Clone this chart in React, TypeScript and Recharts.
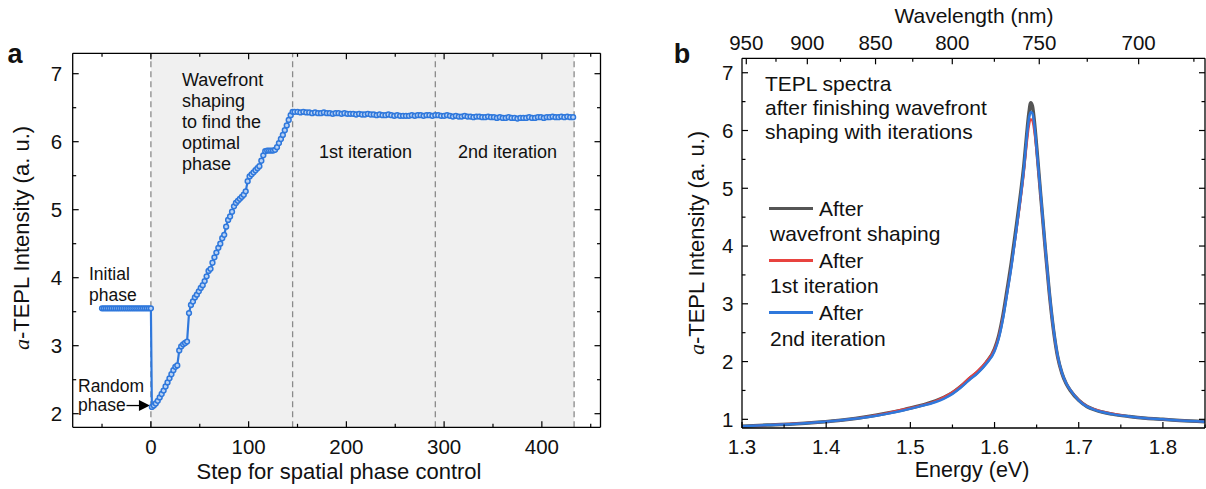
import React from "react";
import { LineChart, Line, XAxis, YAxis, ReferenceArea, ReferenceLine, ReferenceDot } from "recharts";

const FONT = '"Liberation Sans", Arial, sans-serif';

// ---- panel a: intensity vs optimisation step ----
const initialIntensity = [
  3.55, 3.55, 3.55, 3.55, 3.55, 3.55, 3.55, 3.55, 3.55, 3.55, 3.55, 3.55, 3.55,
  3.55, 3.55, 3.55, 3.55, 3.55, 3.55, 3.55, 3.55, 3.55, 3.55, 3.55, 3.55, 3.55,
];
const shapingIntensity = [
  2.10, 2.12, 2.15, 2.19, 2.24, 2.29, 2.34, 2.40, 2.46, 2.52,
  2.58, 2.64, 2.69, 2.71, 2.93, 2.99, 3.02, 3.04, 3.06, 3.48,
  3.60, 3.65, 3.71, 3.75, 3.80, 3.85, 3.89, 3.95, 4.02, 4.10,
  4.13, 4.22, 4.30, 4.37, 4.44, 4.50, 4.58, 4.63, 4.75, 4.85,
  4.90, 4.97, 5.05, 5.10, 5.13, 5.16, 5.19, 5.22, 5.27, 5.42,
  5.49, 5.52, 5.55, 5.58, 5.61, 5.64, 5.72, 5.80, 5.86, 5.87,
  5.87, 5.87, 5.87, 5.88, 5.92, 5.98, 6.04, 6.10, 6.17, 6.24,
  6.32, 6.39, 6.44,
];
const iterationIntensity = [
  6.44, 6.44, 6.43, 6.44, 6.43, 6.43, 6.42, 6.43, 6.42, 6.42, 6.43, 6.42, 6.42, 6.41, 6.42, 6.42, 6.41, 6.42, 6.41,
  6.41, 6.41, 6.40, 6.41, 6.40, 6.40, 6.41, 6.40, 6.40, 6.39, 6.40, 6.39, 6.39, 6.40, 6.39, 6.38, 6.39, 6.38, 6.38, 6.38,
  6.38, 6.39, 6.38, 6.39, 6.39, 6.38, 6.39, 6.39, 6.38, 6.39,
  6.39, 6.38, 6.38, 6.39, 6.38, 6.37, 6.38, 6.37, 6.37, 6.38, 6.37, 6.37, 6.36, 6.37, 6.37, 6.36,
  6.36, 6.37, 6.36, 6.36, 6.35, 6.36, 6.35, 6.35, 6.36, 6.35, 6.35, 6.34, 6.35, 6.35,
  6.35, 6.36, 6.35, 6.35, 6.36, 6.36, 6.35, 6.36, 6.36, 6.37, 6.36, 6.36, 6.37, 6.36, 6.37, 6.36, 6.36,
];
const phaseBounds = [0, 145, 291, 433];
const stepTicks = [-50, 0, 50, 100, 150, 200, 250, 300, 350, 400, 450];
const intensityTicksA = [2, 2.5, 3, 3.5, 4, 4.5, 5, 5.5, 6, 6.5, 7];

const stepData = [
  ...initialIntensity.map((v, i) => ({ step: -50 + 2 * i, value: v })),
  ...shapingIntensity.map((v, i) => ({ step: 1 + 2 * i, value: v })),
  ...iterationIntensity.map((v, i) => ({ step: 147 + 3 * i, value: v })),
];

// ---- panel b: spectra ----
const energy = [
  1.30, 1.33, 1.36, 1.39, 1.42, 1.45, 1.47, 1.49, 1.51, 1.53,
  1.54, 1.55, 1.56, 1.57, 1.58, 1.59, 1.60, 1.605, 1.61, 1.615,
  1.62, 1.625, 1.63, 1.635, 1.638, 1.641, 1.643, 1.645, 1.648, 1.651,
  1.655, 1.66, 1.665, 1.67, 1.675, 1.68, 1.685, 1.69, 1.70, 1.71,
  1.72, 1.74, 1.76, 1.78, 1.80, 1.82, 1.85,
];
const afterShaping = [
  0.88, 0.90, 0.92, 0.95, 0.99, 1.05, 1.10, 1.16, 1.23, 1.32,
  1.38, 1.46, 1.57, 1.70, 1.82, 1.98, 2.22, 2.45, 2.80, 3.25,
  3.72, 4.25, 4.80, 5.42, 5.90, 6.32, 6.48, 6.42, 6.05, 5.55,
  4.85, 4.00, 3.20, 2.55, 2.08, 1.80, 1.62, 1.50, 1.33, 1.22,
  1.16, 1.09, 1.05, 1.02, 1.00, 0.98, 0.96,
];
const afterFirst = [
  0.88, 0.90, 0.93, 0.95, 0.99, 1.05, 1.10, 1.17, 1.23, 1.32,
  1.39, 1.47, 1.58, 1.72, 1.84, 2.00, 2.22, 2.44, 2.78, 3.20,
  3.65, 4.15, 4.68, 5.28, 5.72, 6.08, 6.20, 6.16, 5.88, 5.45,
  4.80, 3.98, 3.18, 2.54, 2.08, 1.80, 1.63, 1.51, 1.34, 1.23,
  1.17, 1.10, 1.05, 1.02, 1.00, 0.98, 0.96,
];
const afterSecond = [
  0.88, 0.90, 0.92, 0.95, 0.99, 1.04, 1.09, 1.15, 1.22, 1.30,
  1.36, 1.44, 1.55, 1.68, 1.80, 1.96, 2.18, 2.40, 2.74, 3.18,
  3.64, 4.18, 4.74, 5.36, 5.84, 6.22, 6.32, 6.30, 6.00, 5.52,
  4.86, 4.02, 3.22, 2.57, 2.10, 1.81, 1.63, 1.51, 1.33, 1.22,
  1.16, 1.09, 1.05, 1.02, 1.00, 0.98, 0.96,
];
const energyTicks = [1.3, 1.35, 1.4, 1.45, 1.5, 1.55, 1.6, 1.65, 1.7, 1.75, 1.8, 1.85];
const wavelengthTicks = [950, 925, 900, 875, 850, 825, 800, 775, 750, 725, 700, 675];
const wavelengthLabels = [950, 900, 850, 800, 750, 700];
const intensityTicksB = [1, 1.5, 2, 2.5, 3, 3.5, 4, 4.5, 5, 5.5, 6, 6.5, 7];

const HC = 1239.84;
const spectra = energy.map((e, i) => ({
  energy: e,
  shaping: afterShaping[i],
  first: afterFirst[i],
  second: afterSecond[i],
}));

const GRAY = "#555555";
const RED = "#e8433f";
const BLUE = "#2f78dc";
const TICK_FONT = 20.5;

type Side = "left" | "right" | "top" | "bottom";

const isWhole = (v: number, step: number) => Math.abs(v / step - Math.round(v / step)) < 1e-6;

function makeTick(side: Side, isMajor: (v: number) => boolean, label?: (v: number) => string | null, gap = 10) {
  return (props: any) => {
    const { x, y, payload } = props;
    const v = payload.value as number;
    const major = isMajor(v);
    const len = major ? 6 : 3.5;
    const txt = major && label ? label(v) : null;
    const ts = { fontFamily: FONT, fontSize: TICK_FONT, fill: "#111" };
    let line = null;
    let text = null;
    if (side === "bottom") {
      line = <line x1={x} x2={x} y1={y} y2={y - len} stroke="#000" strokeWidth={1.2} />;
      if (txt) text = <text x={x} y={y + gap} dy="0.36em" textAnchor="middle" {...ts}>{txt}</text>;
    } else if (side === "top") {
      line = <line x1={x} x2={x} y1={y} y2={y + len} stroke="#000" strokeWidth={1.2} />;
      if (txt) text = <text x={x} y={y - gap} dy="0.36em" textAnchor="middle" {...ts}>{txt}</text>;
    } else if (side === "left") {
      line = <line x1={x} x2={x + len} y1={y} y2={y} stroke="#000" strokeWidth={1.2} />;
      if (txt) text = <text x={x - gap} y={y} dy="0.36em" textAnchor="end" {...ts}>{txt}</text>;
    } else {
      line = <line x1={x} x2={x - len} y1={y} y2={y} stroke="#000" strokeWidth={1.2} />;
    }
    return (
      <g>
        {line}
        {text}
      </g>
    );
  };
}

function Note({ x, y, children, size = 18, anchor = "start", weight = 400 }: any) {
  const tx = anchor === "middle" ? "-50%" : anchor === "end" ? "-100%" : "0";
  return (
    <div
      style={{
        position: "absolute",
        left: x,
        top: y,
        transform: `translate(${tx},-50%)`,
        fontSize: size,
        fontWeight: weight,
        lineHeight: 1,
        whiteSpace: "nowrap",
        fontFamily: FONT,
        color: "#111",
      }}
    >
      {children}
    </div>
  );
}

function YTitle({ x, y, size = 22 }: { x: number; y: number; size?: number }) {
  return (
    <div
      style={{
        position: "absolute",
        left: x,
        top: y,
        transform: "translate(-50%,-50%) rotate(-90deg)",
        fontSize: size,
        lineHeight: 1,
        whiteSpace: "nowrap",
        fontFamily: FONT,
        color: "#111",
      }}
    >
      <i style={{ fontFamily: '"Liberation Serif", serif' }}>a</i>-TEPL Intensity (a. u.)
    </div>
  );
}

const axisLine = { stroke: "#000", strokeWidth: 1.3 };

function PanelA() {
  return (
    <div style={{ position: "absolute", left: 0, top: 0 }}>
      <LineChart width={620} height={489} data={stepData} margin={{ top: 52.3, right: 18.5, bottom: 60.7, left: 0 }}>
        <XAxis
          dataKey="step"
          type="number"
          domain={[-80, 460]}
          allowDataOverflow
          ticks={stepTicks}
          interval={0}
          height={1}
          tickSize={0}
          tickMargin={0}
          tickLine={false}
          axisLine={axisLine}
          tick={makeTick("bottom", (v) => isWhole(v, 100), (v) => String(v), 19.5)}
        />
        <XAxis
          xAxisId="top"
          orientation="top"
          dataKey="step"
          type="number"
          domain={[-80, 460]}
          allowDataOverflow
          ticks={stepTicks}
          interval={0}
          height={1}
          tickSize={0}
          tickMargin={0}
          tickLine={false}
          axisLine={axisLine}
          tick={makeTick("top", (v) => isWhole(v, 100))}
        />
        <YAxis
          type="number"
          domain={[1.8, 7.3]}
          allowDataOverflow
          ticks={intensityTicksA}
          interval={0}
          width={72.7}
          tickSize={0}
          tickMargin={0}
          tickLine={false}
          axisLine={axisLine}
          tick={makeTick("left", (v) => isWhole(v, 1), (v) => String(v), 10.5)}
        />
        <YAxis
          yAxisId="right"
          orientation="right"
          type="number"
          domain={[1.8, 7.3]}
          allowDataOverflow
          ticks={intensityTicksA}
          interval={0}
          width={1}
          tickSize={0}
          tickMargin={0}
          tickLine={false}
          axisLine={axisLine}
          tick={makeTick("right", (v) => isWhole(v, 1))}
        />
        <ReferenceArea x1={phaseBounds[0]} x2={phaseBounds[3]} fill="#f0f0f0" fillOpacity={1} stroke="none" />
        {phaseBounds.map((b) => (
          <ReferenceLine key={b} x={b} stroke="#8a8a8a" strokeWidth={1.3} strokeDasharray="6 4" />
        ))}
        <ReferenceLine
          segment={[
            { x: -25, y: 2.12 },
            { x: -10, y: 2.12 },
          ]}
          stroke="#000"
          strokeWidth={1.3}
        />
        <ReferenceDot
          x={-1}
          y={2.12}
          r={5}
          shape={(p: any) => (
            <polygon
              points={`${p.cx},${p.cy} ${p.cx - 11},${p.cy - 5.5} ${p.cx - 11},${p.cy + 5.5}`}
              fill="#000"
            />
          )}
        />
        <Line
          dataKey="value"
          type="linear"
          stroke="#2f78dc"
          strokeWidth={2.2}
          dot={{ r: 2.4, stroke: "#2f78dc", strokeWidth: 1.5, fill: "#b9d2f4" }}
          isAnimationActive={false}
        />
      </LineChart>
    </div>
  );
}

function PanelB() {
  return (
    <div style={{ position: "absolute", left: 620, top: 0 }}>
      <LineChart width={586} height={489} data={spectra} margin={{ top: 57.3, right: 0, bottom: 60, left: 0 }}>
        <XAxis
          dataKey="energy"
          type="number"
          domain={[1.3, 1.85]}
          allowDataOverflow
          ticks={energyTicks}
          interval={0}
          height={1}
          tickSize={0}
          tickMargin={0}
          tickLine={false}
          axisLine={axisLine}
          tick={makeTick("bottom", (v) => isWhole(v, 0.1), (v) => v.toFixed(1), 19)}
        />
        <XAxis
          xAxisId="top"
          orientation="top"
          dataKey="energy"
          type="number"
          domain={[1.3, 1.85]}
          allowDataOverflow
          ticks={wavelengthTicks.map((w) => HC / w)}
          interval={0}
          height={1}
          tickSize={0}
          tickMargin={0}
          tickLine={false}
          axisLine={axisLine}
          tick={makeTick(
            "top",
            (v) => wavelengthLabels.includes(Math.round(HC / v)),
            (v) => String(Math.round(HC / v)),
            15.5
          )}
        />
        <YAxis
          type="number"
          domain={[0.85, 7.25]}
          allowDataOverflow
          ticks={intensityTicksB}
          interval={0}
          width={122}
          tickSize={0}
          tickMargin={0}
          tickLine={false}
          axisLine={axisLine}
          tick={makeTick("left", (v) => isWhole(v, 1), (v) => String(v), 8.5)}
        />
        <YAxis
          yAxisId="right"
          orientation="right"
          type="number"
          domain={[0.85, 7.25]}
          allowDataOverflow
          ticks={intensityTicksB}
          interval={0}
          width={1}
          tickSize={0}
          tickMargin={0}
          tickLine={false}
          axisLine={axisLine}
          tick={makeTick("right", (v) => isWhole(v, 1))}
        />
        <Line dataKey="shaping" type="monotone" stroke={GRAY} strokeWidth={3.5} dot={false} isAnimationActive={false} />
        <Line dataKey="first" type="monotone" stroke={RED} strokeWidth={2} dot={false} isAnimationActive={false} />
        <Line dataKey="second" type="monotone" stroke={BLUE} strokeWidth={2.5} dot={false} isAnimationActive={false} />
      </LineChart>
    </div>
  );
}

function LegendLine({ x, y, color }: { x: number; y: number; color: string }) {
  return (
    <div style={{ position: "absolute", left: x, top: y - 1.5, width: 44, height: 3, background: color }} />
  );
}

export default function App() {
  return (
    <div style={{ position: "absolute", left: 0, top: 0, width: 1206, height: 489, background: "#fff", overflow: "hidden" }}>
      <PanelA />
      <PanelB />

      {/* panel a annotations */}
      <Note x={15} y={54} size={27} weight={700} anchor="middle">a</Note>
      <YTitle x={22} y={238} />
      <Note x={339} y={472} size={22} anchor="middle">Step for spatial phase control</Note>
      <Note x={182} y={80}>Wavefront</Note>
      <Note x={182} y={101}>shaping</Note>
      <Note x={182} y={122}>to find the</Note>
      <Note x={182} y={143}>optimal</Note>
      <Note x={182} y={164}>phase</Note>
      <Note x={319} y={152}>1st iteration</Note>
      <Note x={458} y={152}>2nd iteration</Note>
      <Note x={89} y={275} size={17.5}>Initial</Note>
      <Note x={89} y={296} size={17.5}>phase</Note>
      <Note x={78} y={387} size={17.5}>Random</Note>
      <Note x={78} y={406} size={17.5}>phase</Note>

      {/* panel b annotations */}
      <Note x={682} y={54} size={27} weight={700} anchor="middle">b</Note>
      <YTitle x={697} y={243} />
      <Note x={972} y={471} size={21.5} anchor="middle">Energy (eV)</Note>
      <Note x={974} y={15} size={21} anchor="middle">Wavelength (nm)</Note>
      <Note x={765} y={83} size={21}>TEPL spectra</Note>
      <Note x={765} y={107} size={21}>after finishing wavefront</Note>
      <Note x={765} y={131} size={21}>shaping with iterations</Note>
      <LegendLine x={769} y={208} color={GRAY} />
      <Note x={819} y={208} size={21}>After</Note>
      <Note x={770} y={233} size={21}>wavefront shaping</Note>
      <LegendLine x={769} y={260} color={RED} />
      <Note x={819} y={260} size={21}>After</Note>
      <Note x={770} y={285} size={21}>1st iteration</Note>
      <LegendLine x={769} y={312} color={BLUE} />
      <Note x={819} y={312} size={21}>After</Note>
      <Note x={770} y={338} size={21}>2nd iteration</Note>
    </div>
  );
}
